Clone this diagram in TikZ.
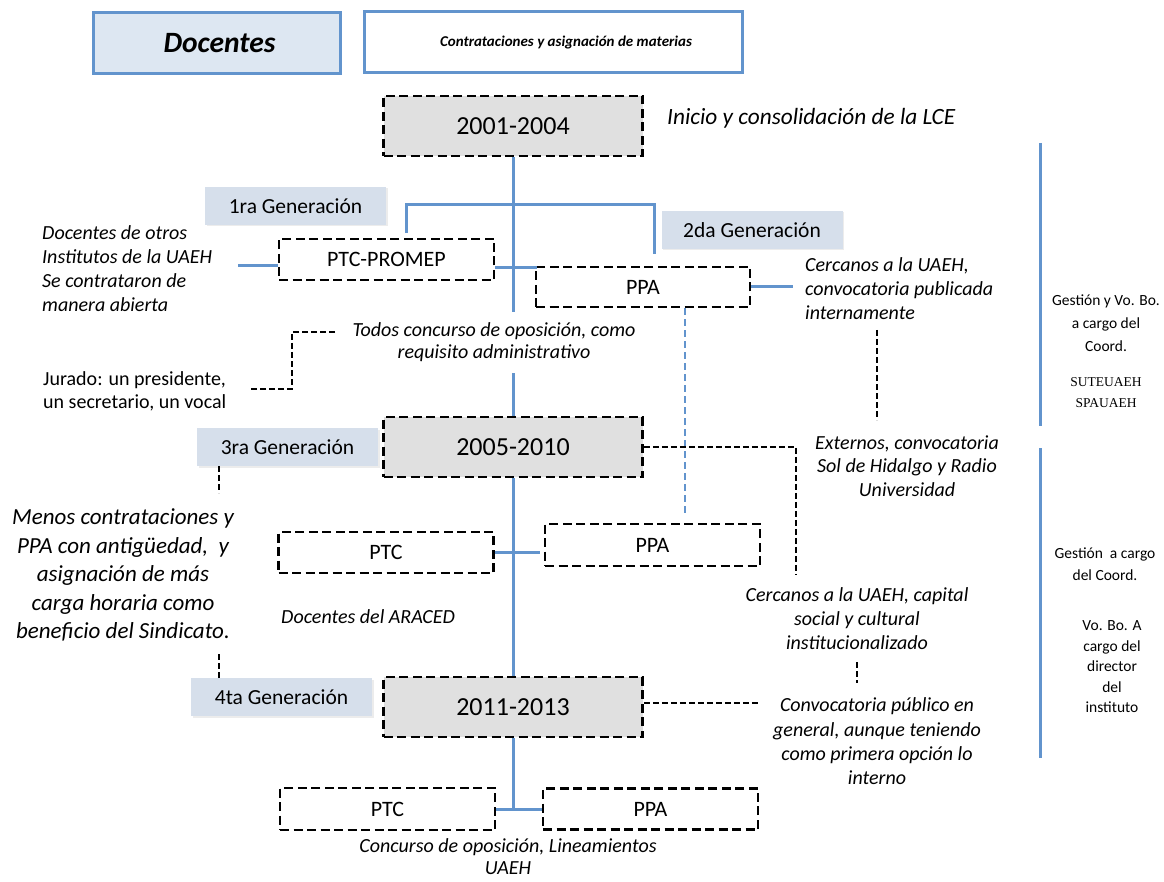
\documentclass[tikz,border=0pt]{standalone}
\usepackage{fontspec}
\setmainfont{Carlito}
\newfontfamily\unionfont{Liberation Serif}
\usetikzlibrary{shadows}

\definecolor{linkblue}{RGB}{98,148,205}
\definecolor{headfill}{RGB}{221,231,242}
\definecolor{genfill}{RGB}{214,223,235}
\definecolor{yearfill}{RGB}{224,224,224}

\tikzset{
  headbox/.style={draw=linkblue, line width=3pt, minimum height=61pt, inner sep=0pt},
  dashbox/.style={draw=black, line width=2.8pt, dash pattern=on 9pt off 4.5pt, inner sep=0pt},
  yearbox/.style={dashbox, fill=yearfill, minimum width=259pt, minimum height=60pt,
    font=\fontsize{26}{30}\selectfont},
  catbox/.style={dashbox, fill=white, minimum width=215pt, minimum height=41pt,
    font=\fontsize{22}{26}\selectfont},
  genbox/.style={fill=genfill, minimum width=181pt, minimum height=38pt, inner sep=0pt,
    font=\fontsize{21.5}{26}\selectfont,
    drop shadow={opacity=0.15, shadow xshift=1.5pt, shadow yshift=-1.5pt}},
  link/.style={draw=linkblue, line width=3pt},
  linkdash/.style={draw=linkblue, line width=2.6pt, dash pattern=on 7pt off 4pt},
  guide/.style={draw=black, line width=2.2pt, dash pattern=on 6pt off 3pt},
  note/.style={inner sep=0pt, align=center, font=\fontsize{20}{24}\selectfont\itshape},
  plain/.style={inner sep=0pt, align=center, font=\fontsize{20}{23}\selectfont},
  side/.style={inner sep=0pt, align=center, font=\fontsize{15.5}{22}\selectfont},
}

\begin{document}
\begin{tikzpicture}[x=1pt, y=-1pt]
\useasboundingbox (0,0) rectangle (1164,882);

% header
\node[headbox, fill=headfill, minimum width=247pt,
  font=\fontsize{29.5}{32}\selectfont\bfseries\itshape] (doc) at (216.5,43.5)
  {\hspace*{6pt}Docentes};
\node[headbox, fill=white, minimum width=378pt,
  font=\fontsize{15}{18}\selectfont\bfseries\itshape] (contr) at (553,42.5)
  {\hspace*{26pt}Contrataciones y asignación de materias};

% periods
\node[yearbox] (y1) at (513,126) {2001-2004};
\node[yearbox] (y2) at (513,447) {2005-2010};
\node[yearbox] (y3) at (513,707) {2011-2013};

% generations
\node[genbox] (g1) at (295.5,206) {1ra Generación};
\node[genbox] (g2) at (752,230) {2da Generación};
\node[genbox] (g3) at (287.5,447) {3ra Generación};
\node[genbox] (g4) at (281.5,697) {4ta Generación};

% categories
\node[catbox] (ptcp) at (386.5,259.5) {PTC-PROMEP};
\node[catbox, minimum width=214pt, minimum height=40pt] (ppa1) at (643,287) {PPA};
\node[catbox] (ptc2) at (386,552.5) {PTC};
\node[catbox, minimum height=42pt] (ppa2) at (652.5,545) {PPA};
\node[catbox, minimum height=42pt] (ptc3) at (387.5,809) {PTC};
\node[catbox] (ppa3) at (650.5,809) {PPA};

% notes
\node[note, font=\fontsize{23.3}{26}\selectfont\itshape, anchor=west] (inicio) at (667,118)
  {Inicio y consolidación de la LCE};
\node[note, align=left, anchor=west] (otros) at (42,269)
  {Docentes de otros\\Institutos de la UAEH\\Se contrataron de\\manera abierta};
\node[note, font=\fontsize{20}{22}\selectfont\itshape] (todos) at (494,342)
  {Todos concurso de oposición, como\\requisito administrativo};
\node[plain, align=left, anchor=west] (jurado) at (43,391.5)
  {Jurado: un presidente,\\un secretario, un vocal};
\node[note, align=left, anchor=west] (cerc1) at (805,289)
  {Cercanos a la UAEH,\\convocatoria publicada\\internamente};
\node[note, font=\fontsize{20}{23.5}\selectfont\itshape] (ext) at (907,466)
  {Externos, convocatoria\\Sol de Hidalgo y Radio\\Universidad};
\node[note, font=\fontsize{23}{28.5}\selectfont\itshape] (menos) at (123,575)
  {Menos contrataciones y\\PPA con antigüedad,\ \ y\\asignación de más\\carga horaria como\\beneficio del Sindicato.};
\node[note, anchor=west] (araced) at (281,617) {Docentes del ARACED};
\node[note] (cerc2) at (857,619)
  {Cercanos a la UAEH, capital\\social y cultural\\institucionalizado};
\node[note, font=\fontsize{20}{24.3}\selectfont\itshape] (conv) at (877,741.5)
  {Convocatoria público en\\general, aunque teniendo\\como primera opción lo\\interno};
\node[note, font=\fontsize{20}{22}\selectfont\itshape] (lin) at (508,857)
  {Concurso de oposición, Lineamientos\\UAEH};

% management column
\node[side, font=\fontsize{15.5}{23}\selectfont] (gest1) at (1106,323)
  {Gestión y Vo. Bo.\\a cargo del\\Coord.};
\node[side, font=\fontsize{13.5}{21}\unionfont] (union) at (1106,392.5)
  {SUTEUAEH\\SPAUAEH};
\node[side] (gest2) at (1105,564) {Gestión\ \ a cargo\\del Coord.};
\node[side, font=\fontsize{15.5}{20.5}\selectfont] (vobo) at (1112,667)
  {Vo. Bo. A\\cargo del\\director\\del\\instituto};

% free ends of connectors
\coordinate (jA) at (513,205);
\coordinate (bl) at (406,233);
\coordinate (br) at (654,254);
\coordinate (m1) at (513,312);
\coordinate (m2) at (513,373);
\coordinate (otrosE) at (238,266);
\coordinate (ppaE) at (793,287);
\coordinate (jt) at (335,332);
\coordinate (jb) at (250,389);
\coordinate (c1a) at (877,330);
\coordinate (c1b) at (877,420);
\coordinate (d1) at (796,574);
\coordinate (c2a) at (857,662);
\coordinate (c2b) at (857,683);
\coordinate (r1a) at (1040,143);
\coordinate (r1b) at (1040,426);
\coordinate (r2a) at (1040,448);
\coordinate (r2b) at (1040,758);

% main spine
\draw[link] (y1.south) -- (m1);
\draw[link] (m2) -- (y2.north);
\draw[link] (y2.south) -- (y3.north);
\draw[link] (y3.south) -- (y3.south |- ptc3.east);

% first generation branches
\draw[link] (bl) -- (bl |- jA) -- (br |- jA) -- (br);
\draw[link] ([yshift=-6.5pt]ptcp.west) -- (otrosE);
\draw[link] ([yshift=-8.5pt]ptcp.east) -- ++(42,0);
\draw[link] (ppa1.east) -- (ppaE);
\draw[linkdash] ([xshift=42pt]ppa1.south) -- ++(0,206);

% later generations
\draw[link] (ptc2.east) -- ++(45,0);
\draw[link] (ptc3.east) -- (ppa3.west);

% dashed guides
\draw[guide] (jt) -- ++(-43,0) |- (jb);
\draw[guide] ([xshift=22pt]g3.south west) -- ++(0,27);
\draw[guide] ([xshift=28pt]g4.north west) -- ++(0,-24);
\draw[guide] (c1a) -- (c1b);
\draw[guide] (y2.east) -| (d1);
\draw[guide] (c2a) -- (c2b);
\draw[guide] ([yshift=4pt]y3.east) -- ++(116,0);

% management column rules
\draw[link] (r1a) -- (r1b);
\draw[link] (r2a) -- (r2b);
\end{tikzpicture}
\end{document}
